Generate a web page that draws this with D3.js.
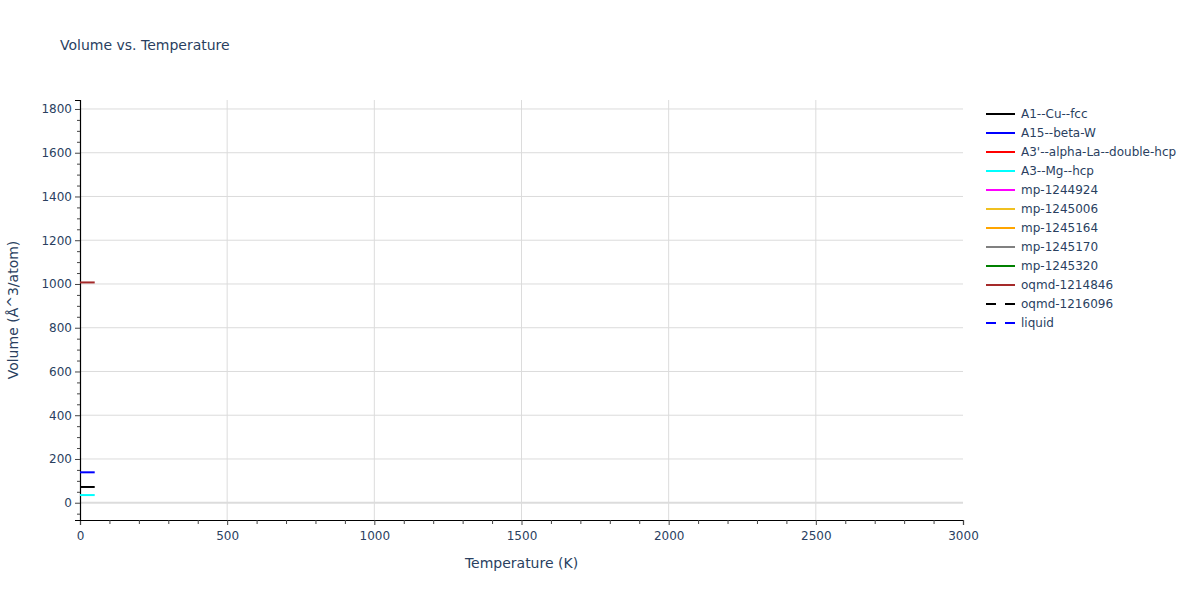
<!DOCTYPE html>
<html>
<head>
<meta charset="utf-8">
<script src="https://cdn.jsdelivr.net/npm/d3@7"></script>
<style>
  body { margin: 0; background: #fff; }
  text { font-family: "DejaVu Sans", sans-serif; fill: #2a3f5f; }
</style>
</head>
<body>
<svg id="chart" width="1200" height="600"></svg>
<script>
// temperatures (K) sampled for the short low-T segments
const temps = [0, 10, 20, 30, 40, 50];

// volume (Å^3/atom) per phase
const a1CuFcc = [72, 72, 72, 72, 72, 72];
const a15BetaW = [139, 139, 139, 139, 139, 139];
const a3AlphaLa = [];
const a3MgHcp = [35, 35, 35, 35, 35, 35];
const mp1244924 = [];
const mp1245006 = [];
const mp1245164 = [];
const mp1245170 = [];
const mp1245320 = [];
const oqmd1214846 = [1007, 1007, 1007, 1007, 1007, 1007];
const oqmd1216096 = [];
const liquid = [];

const seriesNames = ["A1--Cu--fcc", "A15--beta-W", "A3'--alpha-La--double-hcp", "A3--Mg--hcp",
  "mp-1244924", "mp-1245006", "mp-1245164", "mp-1245170", "mp-1245320",
  "oqmd-1214846", "oqmd-1216096", "liquid"];
const seriesValues = [a1CuFcc, a15BetaW, a3AlphaLa, a3MgHcp, mp1244924, mp1245006,
  mp1245164, mp1245170, mp1245320, oqmd1214846, oqmd1216096, liquid];
const seriesColors = ["black", "blue", "red", "cyan", "magenta", "#f0c020", "orange",
  "gray", "green", "brown", "black", "blue"];
const seriesDashed = [false, false, false, false, false, false, false, false, false, false, true, true];

const xTicks = [0, 500, 1000, 1500, 2000, 2500, 3000];
const yTicks = [0, 200, 400, 600, 800, 1000, 1200, 1400, 1600, 1800];

const margin = {left: 80, right: 237, top: 100, bottom: 80};
const width = 1200 - margin.left - margin.right,
      height = 600 - margin.top - margin.bottom;

const svg = d3.select("#chart");
const g = svg.append("g").attr("transform", `translate(${margin.left},${margin.top})`);

const x = d3.scaleLinear().domain([0, 3000]).range([0, width]);
const y = d3.scaleLinear().domain([-79, 1841]).range([height, 0]);

//grid
g.selectAll(".vgrid")
  .data(xTicks.slice(1, -1))
  .enter().append("line")
  .attr("x1", d => x(d)).attr("x2", d => x(d))
  .attr("y1", 0).attr("y2", height)
  .attr("stroke", "#dcdcdc").attr("stroke-width", 1);

g.selectAll(".hgrid")
  .data(yTicks.filter(d => d !== 0))
  .enter().append("line")
  .attr("x1", 0).attr("x2", width)
  .attr("y1", d => y(d)).attr("y2", d => y(d))
  .attr("stroke", "#dcdcdc").attr("stroke-width", 1);

//zero line
g.append("line")
  .attr("x1", 0).attr("x2", width)
  .attr("y1", y(0)).attr("y2", y(0))
  .attr("stroke", "#dcdcdc").attr("stroke-width", 2);

//axes
const fmt = d3.format("d");
const xAxis = g.append("g")
  .attr("transform", `translate(0,${height})`)
  .call(d3.axisBottom(x).tickValues(xTicks).tickFormat(fmt).tickSize(5).tickPadding(6));
const xMinor = g.append("g")
  .attr("transform", `translate(0,${height})`)
  .call(d3.axisBottom(x).tickValues(d3.range(0, 3001, 100).filter(d => d % 500)).tickSize(4).tickFormat(""));

const yAxis = g.append("g")
  .call(d3.axisLeft(y).tickValues(yTicks).tickFormat(fmt).tickSize(5).tickPadding(3));
const yMinor = g.append("g")
  .call(d3.axisLeft(y).tickValues(d3.range(-50, 1841, 50).filter(d => d % 200)).tickSize(3).tickFormat(""));

[xAxis, xMinor, yAxis, yMinor].forEach(a => {
  a.select(".domain").attr("stroke", "#000").attr("stroke-width", 1.2);
  a.selectAll(".tick line").attr("stroke", "#444");
  a.selectAll("text").attr("font-size", 12).attr("fill", "#2a3f5f")
    .attr("font-family", "\"DejaVu Sans\", sans-serif");
});
xMinor.select(".domain").remove();
yMinor.select(".domain").remove();

//lines
const line = d3.line().x((d, i) => x(temps[i])).y(d => y(d));
seriesValues.forEach((vals, i) => {
  if (!vals.length) return;
  g.append("path")
    .datum(vals)
    .attr("fill", "none")
    .attr("stroke", seriesColors[i])
    .attr("stroke-width", 2)
    .attr("stroke-dasharray", seriesDashed[i] ? "6,6" : null)
    .attr("d", line);
});

//titles
svg.append("text")
  .attr("x", 60).attr("y", 50)
  .attr("font-size", 14)
  .text("Volume vs. Temperature");

svg.append("text")
  .attr("x", margin.left + width / 2).attr("y", 568)
  .attr("text-anchor", "middle")
  .attr("font-size", 14)
  .text("Temperature (K)");

svg.append("text")
  .attr("transform", `translate(18,${margin.top + height / 2}) rotate(-90)`)
  .attr("text-anchor", "middle")
  .attr("font-size", 14)
  .text("Volume (Å^3/atom)");

//legend
const legend = svg.append("g").attr("transform", "translate(986,114)");
const items = legend.selectAll("g")
  .data(seriesNames)
  .enter().append("g")
  .attr("transform", (d, i) => `translate(0,${i * 19})`);

items.append("line")
  .attr("x1", 0).attr("x2", 29)
  .attr("stroke", (d, i) => seriesColors[i])
  .attr("stroke-width", 2)
  .attr("stroke-dasharray", (d, i) => seriesDashed[i] ? "10,9" : null);

items.append("text")
  .attr("x", 35).attr("y", 4)
  .attr("font-size", 12)
  .text(d => d);
</script>
</body>
</html>
